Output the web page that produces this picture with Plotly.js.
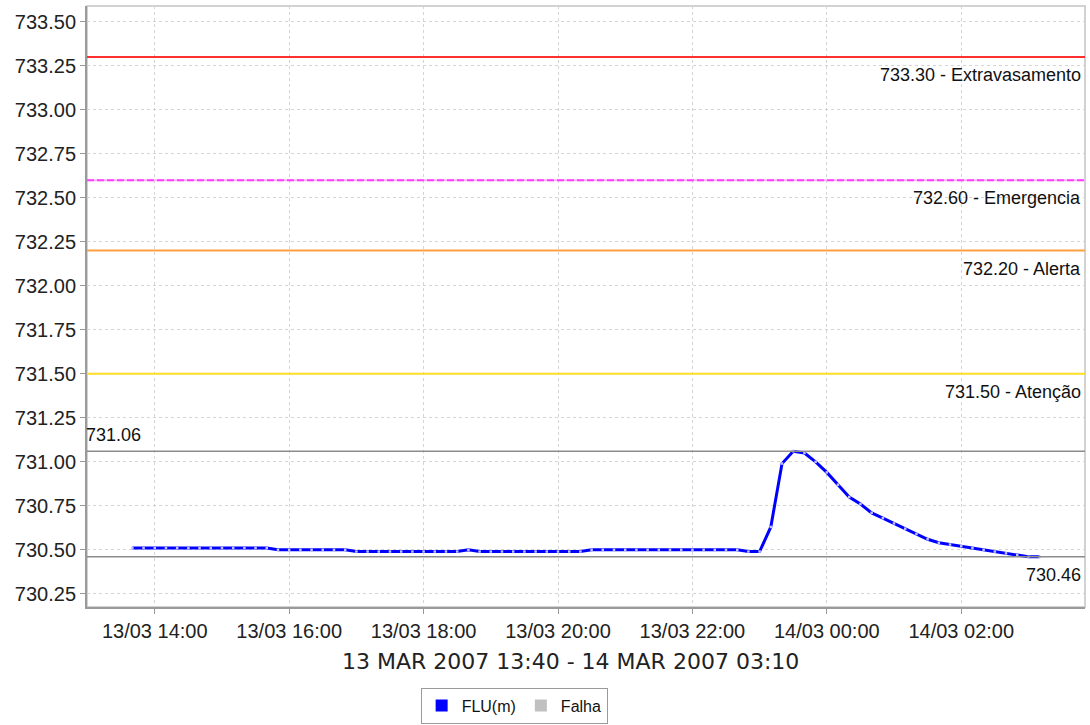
<!DOCTYPE html>
<html>
<head>
<meta charset="utf-8">
<script src="https://cdn.plot.ly/plotly-3.0.1.min.js"></script>
<style>html,body{margin:0;padding:0;background:#fff;}#chart{width:1090px;height:725px;}</style>
</head>
<body>
<div id="chart"></div>
<script>
// ---- data ----
const times = [
  "2007-03-13 13:40","2007-03-13 13:50","2007-03-13 14:00","2007-03-13 14:10","2007-03-13 14:20","2007-03-13 14:30",
  "2007-03-13 14:40","2007-03-13 14:50","2007-03-13 15:00","2007-03-13 15:10","2007-03-13 15:20","2007-03-13 15:30",
  "2007-03-13 15:40","2007-03-13 15:50","2007-03-13 16:00","2007-03-13 16:10","2007-03-13 16:20","2007-03-13 16:30",
  "2007-03-13 16:40","2007-03-13 16:50","2007-03-13 17:00","2007-03-13 17:10","2007-03-13 17:20","2007-03-13 17:30",
  "2007-03-13 17:40","2007-03-13 17:50","2007-03-13 18:00","2007-03-13 18:10","2007-03-13 18:20","2007-03-13 18:30",
  "2007-03-13 18:40","2007-03-13 18:50","2007-03-13 19:00","2007-03-13 19:10","2007-03-13 19:20","2007-03-13 19:30",
  "2007-03-13 19:40","2007-03-13 19:50","2007-03-13 20:00","2007-03-13 20:10","2007-03-13 20:20","2007-03-13 20:30",
  "2007-03-13 20:40","2007-03-13 20:50","2007-03-13 21:00","2007-03-13 21:10","2007-03-13 21:20","2007-03-13 21:30",
  "2007-03-13 21:40","2007-03-13 21:50","2007-03-13 22:00","2007-03-13 22:10","2007-03-13 22:20","2007-03-13 22:30",
  "2007-03-13 22:40","2007-03-13 22:50","2007-03-13 23:00","2007-03-13 23:10","2007-03-13 23:20","2007-03-13 23:30",
  "2007-03-13 23:40","2007-03-13 23:50","2007-03-14 00:00","2007-03-14 00:10","2007-03-14 00:20","2007-03-14 00:30",
  "2007-03-14 00:40","2007-03-14 00:50","2007-03-14 01:00","2007-03-14 01:10","2007-03-14 01:20","2007-03-14 01:30",
  "2007-03-14 01:40","2007-03-14 01:50","2007-03-14 02:00","2007-03-14 02:10","2007-03-14 02:20","2007-03-14 02:30",
  "2007-03-14 02:40","2007-03-14 02:50","2007-03-14 03:00","2007-03-14 03:10"
];
const flu = [
  730.51,730.51,730.51,730.51,730.51,730.51,
  730.51,730.51,730.51,730.51,730.51,730.51,
  730.51,730.50,730.50,730.50,730.50,730.50,
  730.50,730.50,730.49,730.49,730.49,730.49,
  730.49,730.49,730.49,730.49,730.49,730.49,
  730.50,730.49,730.49,730.49,730.49,730.49,
  730.49,730.49,730.49,730.49,730.49,730.50,
  730.50,730.50,730.50,730.50,730.50,730.50,
  730.50,730.50,730.50,730.50,730.50,730.50,
  730.50,730.49,730.49,730.63,730.99,731.06,
  731.05,731.00,730.94,730.87,730.80,730.76,
  730.71,730.68,730.65,730.62,730.59,730.56,
  730.54,730.53,730.52,730.51,730.50,730.49,
  730.48,730.47,730.46,730.46
];
const levelValues = [733.30, 732.60, 732.20, 731.50];
const levelNames  = ["Extravasamento", "Emergencia", "Alerta", "Atenção"];
const levelColors = ["#ff3030", "#ff40ff", "#ffa040", "#ffdd22"];
const maxValue = 731.06;
const minValue = 730.46;
const xTitle = "13 MAR 2007 13:40 - 14 MAR 2007 03:10";
const seriesName = "FLU(m)";
const failName = "Falha";

// ---- chart ----
const tickFont = {family: "Liberation Sans, Arial, sans-serif", size: 20, color: "#222"};
const annFont = {family: "Liberation Sans, Arial, sans-serif", size: 18, color: "#111"};

const shapes = [];
const annotations = [];
levelValues.forEach((v, i) => {
  if (i === 1) {
    shapes.push({type: "line", xref: "paper", x0: 0, x1: 1, yref: "y", y0: v, y1: v,
      line: {color: "#ffb0ff", width: 2}, layer: "above"});
    shapes.push({type: "line", xref: "paper", x0: 0, x1: 1, yref: "y", y0: v, y1: v,
      line: {color: levelColors[i], width: 2, dash: "7px,3px"}, layer: "above"});
  } else {
    shapes.push({type: "line", xref: "paper", x0: 0, x1: 1, yref: "y", y0: v, y1: v,
      line: {color: levelColors[i], width: 2}, layer: "above"});
  }
  annotations.push({xref: "paper", x: 1, xanchor: "right", xshift: -2, yref: "y", y: v, yanchor: "top",
    yshift: -6, showarrow: false, text: v.toFixed(2) + " - " + levelNames[i], font: annFont});
});
[maxValue, minValue].forEach(v => {
  shapes.push({type: "line", xref: "paper", x0: 0, x1: 1, yref: "y", y0: v, y1: v,
    line: {color: "#8c8c8c", width: 1.5}, layer: "above"});
});
annotations.push({xref: "paper", x: 0, xanchor: "left", xshift: -3, yref: "y", y: maxValue, yanchor: "bottom",
  yshift: 4, showarrow: false, text: maxValue.toFixed(2), font: annFont});
annotations.push({xref: "paper", x: 1, xanchor: "right", xshift: -2, yref: "y", y: minValue, yanchor: "top",
  yshift: -6, showarrow: false, text: minValue.toFixed(2), font: annFont});
annotations.push({xref: "paper", x: 0.4845, xanchor: "center", yref: "paper", y: -0.091, yanchor: "middle",
  showarrow: false, text: xTitle, font: {family: "DejaVu Sans, sans-serif", size: 22, color: "#222"}});
// plot outline
shapes.push({type: "rect", xref: "paper", yref: "paper", x0: 0, x1: 1, y0: 0, y1: 1,
  line: {color: "#c4c4c4", width: 1.5}, layer: "below"});

const traces = [
  {x: times, y: flu, type: "scatter", mode: "lines+markers", name: seriesName, showlegend: false,
   line: {color: "#0000ff", width: 3},
   marker: {symbol: "square", size: 2.5, color: "#c0c0ff"}},
  {x: [null], y: [null], type: "scatter", mode: "markers", name: seriesName,
   marker: {symbol: "square", size: 12, color: "#0000ff"}},
  {x: [null], y: [null], type: "scatter", mode: "markers", name: failName,
   marker: {symbol: "square", size: 12, color: "#c0c0c0"}}
];

const layout = {
  width: 1090, height: 725,
  margin: {l: 87, r: 5, t: 6, b: 118, autoexpand: false},
  paper_bgcolor: "#ffffff", plot_bgcolor: "#ffffff",
  font: tickFont,
  showlegend: true,
  xaxis: {
    type: "date", automargin: false,
    range: ["2007-03-13 12:59:30", "2007-03-14 03:50:30"],
    tick0: "2007-03-13 14:00", dtick: 7200000,
    tickformat: "%d/%m %H:%M",
    ticks: "outside", ticklen: 5, tickcolor: "#999", tickwidth: 1,
    showline: true, linecolor: "#9a9a9a", linewidth: 2,
    showgrid: true, gridcolor: "#d4d4d4", griddash: "3px,3px", gridwidth: 1,
    zeroline: false, tickfont: tickFont, fixedrange: true
  },
  yaxis: {
    range: [730.175, 733.59], automargin: false,
    tick0: 730.25, dtick: 0.25, tickformat: ".2f",
    ticks: "outside", ticklen: 5, tickcolor: "#999", tickwidth: 1,
    showline: true, linecolor: "#9a9a9a", linewidth: 2,
    showgrid: true, gridcolor: "#d4d4d4", griddash: "3px,3px", gridwidth: 1,
    zeroline: false, tickfont: tickFont, fixedrange: true
  },
  legend: {
    orientation: "h", x: 0.428, xanchor: "center", y: -0.134, yanchor: "top",
    bordercolor: "#9a9a9a", borderwidth: 1, bgcolor: "#ffffff",
    font: {family: "Liberation Sans, Arial, sans-serif", size: 16, color: "#111"},
    itemwidth: 30
  },
  shapes: shapes,
  annotations: annotations
};

Plotly.newPlot("chart", traces, layout, {displayModeBar: false, staticPlot: true});
</script>
</body>
</html>
